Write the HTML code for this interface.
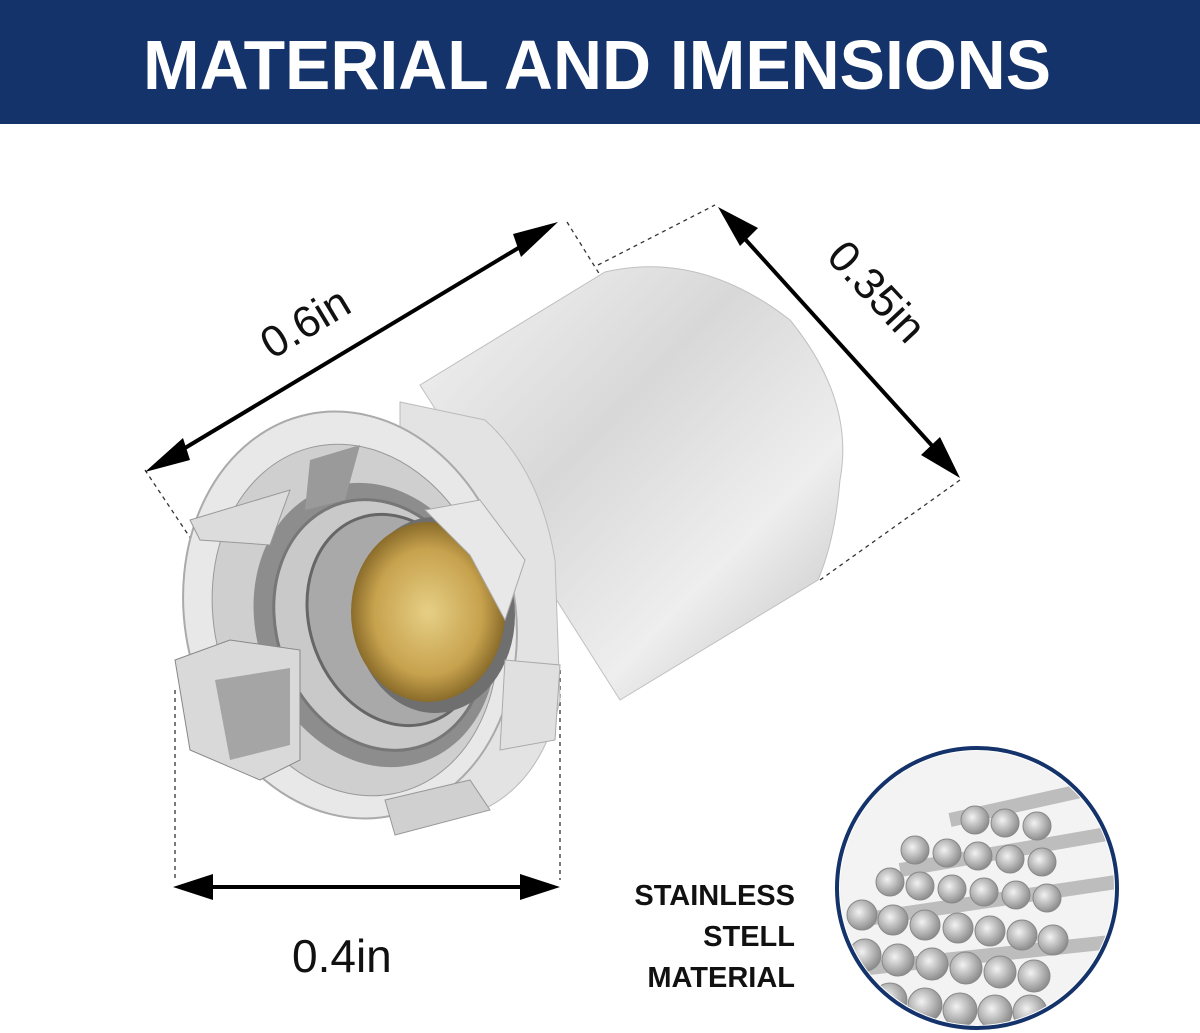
<!DOCTYPE html>
<html><head><meta charset="utf-8"><style>
html,body{margin:0;padding:0;background:#fff;}
svg{display:block;}
text{font-family:"Liberation Sans",sans-serif;}
</style></head><body>
<svg width="1200" height="1033" viewBox="0 0 1200 1033" xmlns="http://www.w3.org/2000/svg">
<defs>
<linearGradient id="body" x1="0" y1="0" x2="1" y2="1">
<stop offset="0" stop-color="#f4f4f4"/><stop offset="0.4" stop-color="#d8d8d8"/><stop offset="0.7" stop-color="#eeeeee"/><stop offset="1" stop-color="#bdbdbd"/></linearGradient>
<radialGradient id="brass" cx="0.5" cy="0.5" r="0.5"><stop offset="0" stop-color="#e6cf85"/><stop offset="0.7" stop-color="#c7a24e"/><stop offset="1" stop-color="#8a6c2a"/></radialGradient>
<radialGradient id="rod" cx="0.4" cy="0.4" r="0.6"><stop offset="0" stop-color="#f2f2f2"/><stop offset="1" stop-color="#8f8f8f"/></radialGradient>
</defs>
<rect x="0" y="0" width="1200" height="124" fill="#14336b"/>
<text x="597" y="89" text-anchor="middle" font-size="70" font-weight="bold" fill="#fff" textLength="908" lengthAdjust="spacingAndGlyphs">MATERIAL AND IMENSIONS</text>

<g stroke="#333" stroke-width="1.3" stroke-dasharray="4,4" fill="none">
<line x1="145" y1="470" x2="195" y2="545"/>
<line x1="567" y1="222" x2="600" y2="275"/>
<line x1="598" y1="265" x2="715" y2="205"/>
<line x1="820" y1="580" x2="960" y2="480"/>
<line x1="175" y1="690" x2="175" y2="880"/>
<line x1="560" y1="670" x2="560" y2="880"/>
</g>
<g stroke="#000" stroke-width="4">
<line x1="165" y1="460" x2="540" y2="235"/>
<line x1="735" y1="228" x2="945" y2="460"/>
<line x1="195" y1="887" x2="540" y2="887"/>
</g>
<g fill="#000">
<polygon points="145,472 183,438 190,460"/>
<polygon points="558,222 521,257 513,234"/>
<polygon points="718,207 758,228 740,246"/>
<polygon points="960,478 921,455 940,437"/>
<polygon points="173,887 213,874 213,900"/>
<polygon points="560,887 520,874 520,900"/>
</g>
<text x="0" y="0" font-size="44" fill="#111" transform="translate(272,360) rotate(-31)">0.6in</text>
<text x="0" y="0" font-size="44" fill="#111" transform="translate(825,258) rotate(47)">0.35in</text>
<text x="292" y="972" font-size="46" fill="#111">0.4in</text>

<!-- connector body -->
<path d="M420,385 L605,272 Q700,250 790,320 Q855,400 840,480 Q835,540 818,580 L620,700 Z" fill="url(#body)" stroke="#c0c0c0"/>
<path d="M520,330 L525,700" stroke="#fff" stroke-width="0" fill="none"/>
<!-- front collar -->
<path d="M400,402 L485,420 Q540,470 555,560 L560,700 Q540,790 470,815 L400,820 Z" fill="#e3e3e3" stroke="#bbb"/>
<ellipse cx="350" cy="615" rx="165" ry="205" transform="rotate(-12 350 615)" fill="#e8e8e8" stroke="#aaa" stroke-width="2"/>
<ellipse cx="355" cy="620" rx="140" ry="178" transform="rotate(-15 355 620)" fill="#cfcfcf" stroke="#999"/>
<ellipse cx="375" cy="625" rx="118" ry="145" transform="rotate(-20 375 625)" fill="#8d8d8d"/>
<ellipse cx="380" cy="625" rx="103" ry="128" transform="rotate(-20 380 625)" fill="#c9c9c9" stroke="#777" stroke-width="3"/>
<ellipse cx="395" cy="620" rx="85" ry="108" transform="rotate(-20 395 620)" fill="#a9a9a9" stroke="#666" stroke-width="3"/>
<ellipse cx="435" cy="615" rx="80" ry="98" fill="#6f6f6f"/>
<ellipse cx="428" cy="612" rx="77" ry="90" fill="url(#brass)"/>
<!-- lugs -->
<polygon points="175,660 230,640 300,650 300,760 260,780 190,750" fill="#d9d9d9" stroke="#888"/>
<polygon points="215,680 290,668 290,745 230,760" fill="#a5a5a5"/>
<polygon points="190,520 290,490 270,545 200,540" fill="#dcdcdc" stroke="#999"/>
<polygon points="310,460 360,445 345,500 305,510" fill="#9a9a9a"/>
<polygon points="425,510 480,500 525,560 505,620 470,555" fill="#e8e8e8" stroke="#aaa"/>
<polygon points="505,660 560,665 555,740 500,750" fill="#e0e0e0" stroke="#aaa"/>
<polygon points="385,800 470,780 490,810 395,835" fill="#d0d0d0" stroke="#999"/>

<g font-size="29" font-weight="bold" fill="#111" text-anchor="end">
<text x="795" y="905">STAINLESS</text>
<text x="795" y="946">STELL</text>
<text x="795" y="987">MATERIAL</text>
</g>
<circle cx="977" cy="888" r="140" fill="#fff" stroke="#14336b" stroke-width="4"/>
<clipPath id="cc"><circle cx="977" cy="888" r="137"/></clipPath>
<g clip-path="url(#cc)">
<rect x="830" y="740" width="300" height="300" fill="#f3f3f3"/>
<g stroke="#bdbdbd" stroke-width="14">
<line x1="950" y1="820" x2="1130" y2="780"/><line x1="900" y1="870" x2="1130" y2="830"/>
<line x1="860" y1="920" x2="1130" y2="880"/><line x1="850" y1="970" x2="1130" y2="940"/>
</g>
<g fill="url(#rod)" stroke="#888">
<circle cx="975" cy="820" r="14"/><circle cx="1005" cy="823" r="14"/><circle cx="1037" cy="826" r="14"/>
<circle cx="915" cy="850" r="14"/><circle cx="947" cy="853" r="14"/><circle cx="978" cy="856" r="14"/><circle cx="1010" cy="859" r="14"/><circle cx="1042" cy="862" r="14"/>
<circle cx="890" cy="882" r="14"/><circle cx="920" cy="886" r="14"/><circle cx="952" cy="889" r="14"/><circle cx="984" cy="892" r="14"/><circle cx="1016" cy="895" r="14"/><circle cx="1047" cy="898" r="14"/>
<circle cx="862" cy="915" r="15"/><circle cx="893" cy="920" r="15"/><circle cx="925" cy="925" r="15"/><circle cx="958" cy="928" r="15"/><circle cx="990" cy="931" r="15"/><circle cx="1022" cy="935" r="15"/><circle cx="1053" cy="940" r="15"/>
<circle cx="865" cy="955" r="16"/><circle cx="898" cy="960" r="16"/><circle cx="932" cy="964" r="16"/><circle cx="966" cy="968" r="16"/><circle cx="1000" cy="972" r="16"/><circle cx="1034" cy="976" r="16"/>
<circle cx="890" cy="1000" r="17"/><circle cx="925" cy="1005" r="17"/><circle cx="960" cy="1010" r="17"/><circle cx="995" cy="1012" r="17"/><circle cx="1030" cy="1012" r="17"/>
</g>
</g>
</svg>
</body></html>
